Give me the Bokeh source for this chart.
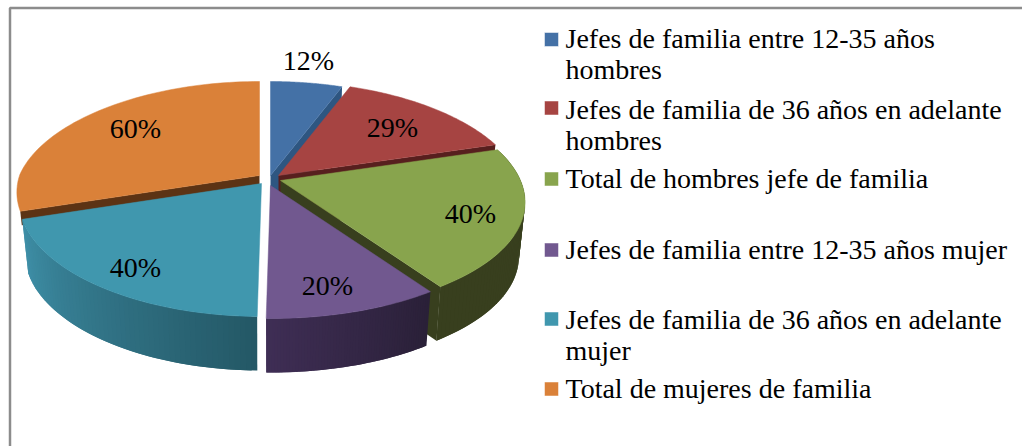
import math
from bokeh.plotting import figure
from bokeh.models import Range1d
from bokeh.core.properties import value
from bokeh.embed import file_html
from bokeh.resources import INLINE

# data
categories = [
    "Jefes de familia entre 12-35 años hombres",
    "Jefes de familia de 36 años en adelante hombres",
    "Total de hombres jefe de familia",
    "Jefes de familia entre 12-35 años mujer",
    "Jefes de familia de 36 años en adelante mujer",
    "Total de mujeres de familia",
]
percent_values = [12, 29, 40, 20, 40, 60]

# style / layout
top_colors = ["#4471a6", "#a64442", "#88a44d", "#71588f", "#4097ae", "#da8139"]
cut_colors = ["#2e5681", "#571f1e", "#383f1e", "#3a2b4e", "#2c6c7e", "#5c3314"]
wall_from = [None, None, "#383f1e", "#3f2e55", "#3f90a8", None]  # colour at the leftmost end
wall_to = [None, None, "#383f1e", "#2a2038", "#245866", None]
apex_x = [270, 278, 280, 270, 261, 259]
apex_y = [175, 175, 180, 185, 183, 175]
cut_depth = [54, 54, 54, 0, 0, 14]
label_x = [308, 392, 470, 327, 135, 135]
label_y = [60, 127, 213, 285, 267, 128]
legend_lines = [
    [("Jefes de familia entre 12-35 años", 38), ("hombres", 69)],
    [("Jefes de familia de 36 años en adelante", 109), ("hombres", 140)],
    [("Total de hombres jefe de familia", 178)],
    [("Jefes de familia entre 12-35 años mujer", 249)],
    [("Jefes de familia de 36 años en adelante", 319), ("mujer", 350)],
    [("Total de mujeres de familia", 388)],
]
legend_box_y = [39, 107.5, 178.5, 249.5, 318.5, 388.5]
RX = 240
DEPTH = 54
SHRINK = 0.975


def project(ax, ay, theta):
    s, c = math.sin(theta), math.cos(theta)
    if c > 0:
        k = 0.2
    else:
        k = 0.2 if s > 0 else 0.15
    return ax + RX * s * (1 - k * c), ay - (113.5 * c - 19.5 * c * c)


def lower(ax, ay, pt, depth=DEPTH):
    return ax + (pt[0] - ax) * (1 - (1 - SHRINK) * depth / DEPTH), pt[1] + depth


def mix(a, b, t):
    ca = [int(a[i:i + 2], 16) for i in (1, 3, 5)]
    cb = [int(b[i:i + 2], 16) for i in (1, 3, 5)]
    return "#%02x%02x%02x" % tuple(round(x + (y - x) * t) for x, y in zip(ca, cb))


p = figure(width=1022, height=446, output_backend="svg", toolbar_location=None,
           x_range=Range1d(0, 1022), y_range=Range1d(446, 0),
           min_border=0, outline_line_color=None)
p.axis.visible = False
p.grid.visible = False
p.background_fill_color = "white"

# frame: top and left edges only
p.line([9.5, 9.5, 1022], [446, 7.5, 7.5], line_color="#8c8c8c", line_width=2.5)

total = sum(percent_values)
bounds = [0.0]
for v in percent_values:
    bounds.append(bounds[-1] + v / total * 2 * math.pi)

for i in [5, 0, 1, 2, 3, 4]:
    ax, ay = apex_x[i], apex_y[i]
    t0, t1 = bounds[i], bounds[i + 1]
    n = 60
    thetas = [t0 + (t1 - t0) * j / n for j in range(n + 1)]
    arc = [project(ax, ay, t) for t in thetas]

    # outer wall, in overlapping strips so that it can shade without seams
    if wall_from[i]:
        xs, ys, cols = [], [], []
        for j in range(n):
            a, b = arc[j], arc[min(j + 2, n)]
            la, lb = lower(ax, ay, a), lower(ax, ay, b)
            xs.append([a[0], b[0], lb[0], la[0]])
            ys.append([a[1], b[1], lb[1], la[1]])
            cols.append(mix(wall_to[i], wall_from[i], j / n))
        p.patches(xs, ys, fill_color=cols, line_color=None)

    # cut face, seen in the gap before the next slice
    if cut_depth[i]:
        edge = arc[0] if i == 5 else arc[-1]
        le = lower(ax, ay, edge, cut_depth[i])
        la = lower(ax, ay, (ax, ay), cut_depth[i])
        p.patch([ax, edge[0], le[0], la[0]], [ay, edge[1], le[1], la[1]],
                fill_color=cut_colors[i], line_color=None)

    # top face
    p.patch([ax] + [q[0] for q in arc], [ay] + [q[1] for q in arc],
            fill_color=top_colors[i], line_color=top_colors[i], line_width=0.5)

# slice labels
p.text(label_x, label_y, text=[f"{v}%" for v in percent_values],
       text_font=value("Liberation Serif"), text_font_size="28px", text_color="#000000",
       text_align="center", text_baseline="middle")

# legend
p.scatter([551] * len(categories), legend_box_y, marker="square", size=14,
          fill_color=top_colors, line_color="#ffffff", line_width=0.5)
lx, ly, lt = [], [], []
for rows in legend_lines:
    for txt, y in rows:
        lx.append(565)
        ly.append(y)
        lt.append(txt)
p.text(lx, ly, text=lt, text_font=value("Liberation Serif"), text_font_size="28px",
       text_color="#000000", text_align="left", text_baseline="middle")

open("out.html", "w").write(file_html(p, INLINE))
